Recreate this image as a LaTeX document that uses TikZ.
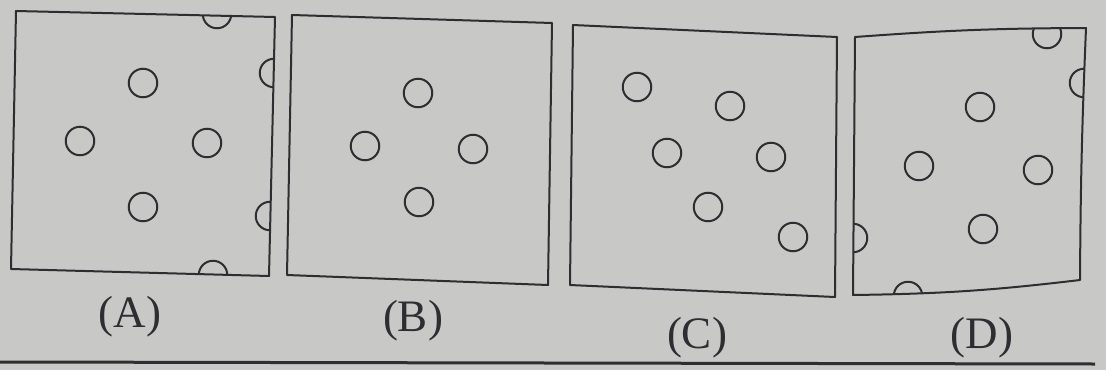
\documentclass[tikz,border=0pt]{standalone}
\usepackage{fontspec}
\setmainfont{Liberation Serif}
\definecolor{paper}{RGB}{200,200,198}
\definecolor{ink}{RGB}{45,45,50}
\begin{document}
\begin{tikzpicture}[x=1pt,y=-1pt,
  frame/.style={draw=ink,line width=2pt,line join=round},
  hole/.style={circle,draw=ink,line width=2pt,minimum size=28.5pt,inner sep=0pt},
  lbl/.style={font=\fontsize{45}{50}\selectfont,text=ink}]
\fill[paper] (0,0) rectangle (1106,370);
\useasboundingbox (0,0) rectangle (1106,370);
% (A)
\draw[frame] (16,11) -- (275,17) -- (269,276) -- (11,269) -- cycle;
\begin{scope}
\clip (16,11) -- (275,17) -- (269,276) -- (11,269) -- cycle;
\node[hole] (a5) at (217,14) {};
\node[hole] (a6) at (274,73) {};
\node[hole] (a7) at (270,216) {};
\node[hole] (a8) at (213,275) {};
\end{scope}
\node[hole] (a1) at (143,83) {};
\node[hole] (a2) at (80,141) {};
\node[hole] (a3) at (207,143) {};
\node[hole] (a4) at (143,207) {};
\node[lbl] (la) at (130,317) {(A)};
% (B)
\draw[frame] (292,15) -- (552,23) -- (548,285) -- (287,275) -- cycle;
\node[hole] (b1) at (418,93) {};
\node[hole] (b2) at (365,146) {};
\node[hole] (b3) at (473,149) {};
\node[hole] (b4) at (419,202) {};
\node[lbl] (lb) at (413,321) {(B)};
% (C)
\draw[frame] (573,25) -- (837,37) -- (835,297) -- (570,285) -- cycle;
\node[hole] (c1) at (637,87) {};
\node[hole] (c2) at (730,106) {};
\node[hole] (c3) at (667,153) {};
\node[hole] (c4) at (771,157) {};
\node[hole] (c5) at (708,207) {};
\node[hole] (c6) at (793,237) {};
\node[lbl] (lc) at (697,338) {(C)};
% (D)
\draw[frame] (855,37) to[bend left=2] (1086,28) to[bend right=1] (1080,280) to[bend left=3] (853,295) -- cycle;
\begin{scope}
\clip (855,37) to[bend left=2] (1086,28) to[bend right=1] (1080,280) to[bend left=3] (853,295) -- cycle;
\node[hole] (d5) at (1047,34) {};
\node[hole] (d6) at (1084,83) {};
\node[hole] (d7) at (853,238) {};
\node[hole] (d8) at (908,296) {};
\end{scope}
\node[hole] (d1) at (980,107) {};
\node[hole] (d2) at (919,166) {};
\node[hole] (d3) at (1038,170) {};
\node[hole] (d4) at (983,229) {};
\node[lbl] (ld) at (982,338) {(D)};
% page rule
\draw[ink,line width=3pt] (0,362) -- (1095,364);
\end{tikzpicture}
\end{document}
